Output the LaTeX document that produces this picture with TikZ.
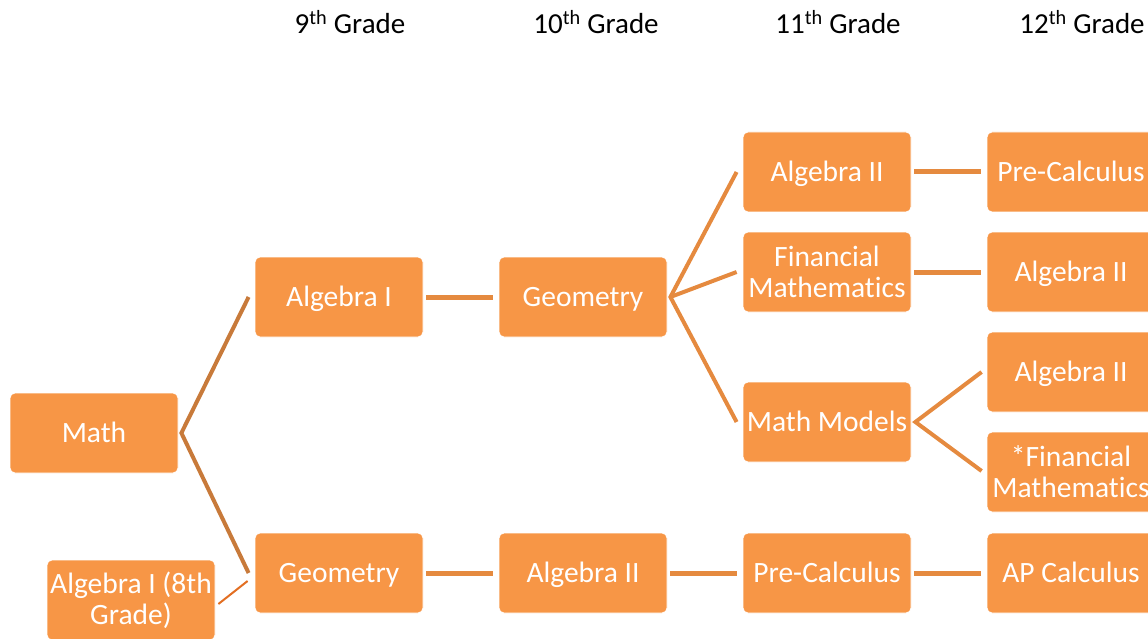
\documentclass[tikz,border=0pt]{standalone}
\usepackage{fontspec}
\setmainfont[Ligatures=NoCommon]{Carlito}
\definecolor{boxfill}{RGB}{247,150,70}
\definecolor{conn}{RGB}{229,138,63}
\definecolor{connd}{RGB}{200,122,58}
\definecolor{connr}{RGB}{226,110,34}
\tikzset{
  box/.style={draw=white, line width=0.8pt, fill=boxfill, rounded corners=5pt,
    minimum width=168pt, minimum height=80pt, inner sep=0pt, align=center,
    text=white, font=\fontsize{29.5}{31}\selectfont},
  onebox/.style={box, text height=19pt, text depth=0pt},
  head/.style={font=\fontsize{29}{31}\selectfont, text=black, inner sep=0pt},
  hline/.style={conn, line width=5pt},
  dline/.style={conn, line width=4pt},
  mline/.style={connd, line width=4pt},
}
\newcommand{\thsup}{\textsuperscript{th}}
\begin{document}
\begin{tikzpicture}[x=1pt,y=-1pt]
\useasboundingbox (0,0) rectangle (1148,639);
% headers
\node[head] (h9) at (350,22) {9\thsup{} Grade};
\node[head] (h10) at (596,22) {10\thsup{} Grade};
\node[head] (h11) at (838,22) {11\thsup{} Grade};
\node[head] (h12) at (1082,22) {12\thsup{} Grade};
% boxes
\node[onebox] (math) at (94,433) {Math};
\node[box, text depth=3pt] (eighth) at (131,600) {Algebra I (8th\\Grade)};
\node[onebox] (alg1) at (339,297) {Algebra I};
\node[onebox] (geo9) at (339,573) {Geometry};
\node[onebox] (geo10) at (583,297) {Geometry};
\node[onebox] (alg2a) at (583,573) {Algebra II};
\node[onebox] (alg2b) at (827,172) {Algebra II};
\node[box] (fin11) at (827,272) {Financial\\Mathematics};
\node[onebox] (models) at (827,422) {Math Models};
\node[onebox] (pre11) at (827,573) {Pre-Calculus};
\node[onebox] (pre12) at (1071,172) {Pre-Calculus};
\node[onebox] (alg2c) at (1071,272) {Algebra II};
\node[onebox] (alg2d) at (1071,372) {Algebra II};
\node[box] (fin12) at (1071,472) {*Financial\\Mathematics};
\node[onebox] (apcalc) at (1071,573) {AP Calculus};
% connectors
\coordinate (mapex) at ([xshift=3pt]math.east);
\draw[mline] ([xshift=-6pt]alg1.west) -- (mapex) -- ([xshift=-6pt]geo9.west);
\draw[connr, line width=2pt] ([xshift=3pt,yshift=-4pt]eighth.east) -- ([xshift=-7pt,yshift=-8pt]geo9.west);
\draw[hline] ([xshift=3pt]alg1.east) -- ([xshift=-6pt]geo10.west);
\draw[hline] ([xshift=3pt]geo9.east) -- ([xshift=-6pt]alg2a.west);
\draw[hline] ([xshift=3pt]alg2a.east) -- ([xshift=-6pt]pre11.west);
\draw[hline] ([xshift=3pt]pre11.east) -- ([xshift=-6pt]apcalc.west);
\draw[hline] ([xshift=3pt]alg2b.east) -- ([xshift=-6pt]pre12.west);
\draw[hline] ([xshift=3pt]fin11.east) -- ([xshift=-6pt]alg2c.west);
\coordinate (gapex) at ([xshift=3pt]geo10.east);
\draw[dline] ([xshift=-6pt]alg2b.west) -- (gapex) -- ([xshift=-6pt]models.west);
\draw[dline] (gapex) -- ([xshift=-6pt]fin11.west);
\coordinate (mmapex) at ([xshift=4pt]models.east);
\draw[dline] ([xshift=-5pt]alg2d.west) -- (mmapex) -- ([xshift=-5pt,yshift=1pt]fin12.west);
\end{tikzpicture}
\end{document}
